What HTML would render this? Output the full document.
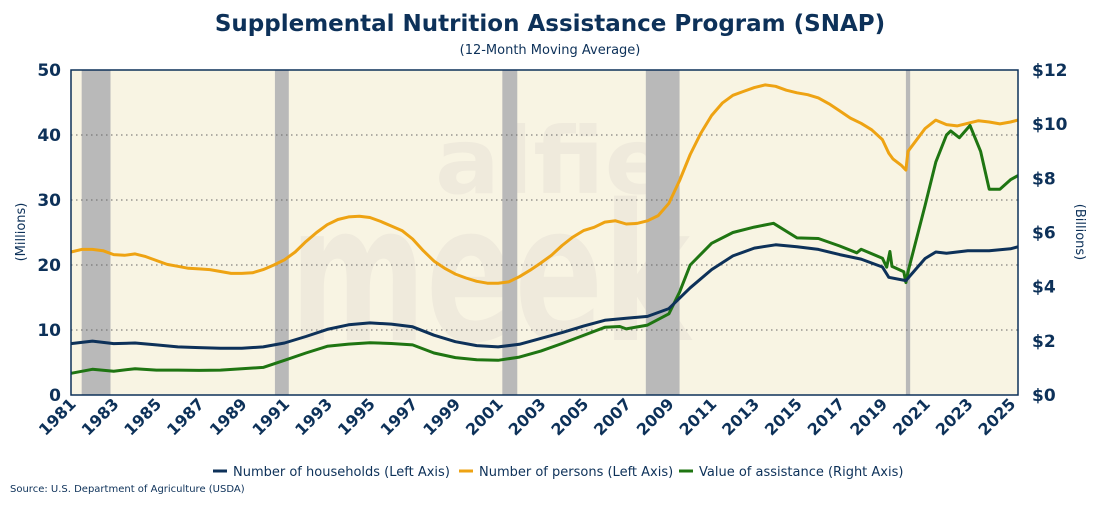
<!DOCTYPE html>
<html><head><meta charset="utf-8"><style>
body{margin:0;background:#fff;width:1100px;height:500px;overflow:hidden;font-family:"Liberation Sans",sans-serif}
svg text{font-family:"DejaVu Sans","Liberation Sans",sans-serif}
</style></head><body>
<svg id="c" width="1100" height="500">
<text x="550" y="31" text-anchor="middle" font-size="23" font-weight="bold" fill="#0d3159">Supplemental Nutrition Assistance Program (SNAP)</text>
<text x="550" y="54" text-anchor="middle" font-size="13" fill="#0d3159">(12-Month Moving Average)</text>
<text x="10" y="492" font-size="10" fill="#0d3159">Source: U.S. Department of Agriculture (USDA)</text>
</svg>
<script>
const years=[1981,1981.5,1982,1982.5,1983,1983.5,1984,1984.5,1985,1985.5,1986,1986.5,1987,1987.5,1988,1988.5,1989,1989.5,1990,1990.5,1991,1991.5,1992,1992.5,1993,1993.5,1994,1994.5,1995,1995.5,1996,1996.5,1997,1997.5,1998,1998.5,1999,1999.5,2000,2000.5,2001,2001.5,2002,2002.5,2003,2003.5,2004,2004.5,2005,2005.5,2006,2006.5,2007,2007.5,2008,2008.5,2009,2009.5,2010,2010.5,2011,2011.5,2012,2012.5,2013,2013.5,2014,2014.5,2015,2015.5,2016,2016.5,2017,2017.5,2018,2018.5,2019,2019.3,2019.5,2019.9,2020.1,2020.2,2020.5,2021,2021.5,2022,2022.5,2023,2023.5,2024,2024.5,2025,2025.35];
const persons=[22,22.4,22.4,22.2,21.6,21.5,21.7,21.3,20.7,20.1,19.8,19.5,19.4,19.3,19.0,18.7,18.7,18.8,19.3,20.0,20.8,22.0,23.6,25.0,26.2,27.0,27.4,27.5,27.3,26.7,26.0,25.3,24.0,22.2,20.6,19.5,18.6,18.0,17.5,17.2,17.2,17.4,18.2,19.2,20.3,21.5,23.0,24.3,25.3,25.8,26.6,26.8,26.3,26.4,26.8,27.6,29.5,33.0,37.0,40.3,43.0,44.9,46.1,46.7,47.3,47.7,47.5,46.9,46.5,46.2,45.7,44.8,43.7,42.6,41.8,40.8,39.3,37.2,36.3,35.3,34.6,37.5,38.8,41.0,42.3,41.6,41.4,41.8,42.2,42.0,41.7,42.0,42.3];
const hhYears=[1981,1982,1983,1984,1985,1986,1987,1988,1989,1990,1991,1992,1993,1994,1995,1996,1997,1998,1999,2000,2001,2002,2003,2004,2005,2006,2007,2008,2009,2010,2011,2012,2013,2014,2015,2016,2017,2018,2019,2019.3,2020.1,2021,2021.5,2022,2023,2024,2025,2025.35];
const households=[7.9,8.3,7.9,8.0,7.7,7.4,7.3,7.2,7.2,7.4,8.0,9.0,10.1,10.8,11.1,10.9,10.5,9.2,8.2,7.6,7.4,7.8,8.7,9.6,10.6,11.5,11.8,12.1,13.3,16.5,19.3,21.4,22.6,23.1,22.8,22.4,21.6,20.9,19.7,18.1,17.6,21.0,22.0,21.8,22.2,22.2,22.5,22.8];
const valYears=[1981,1982,1983,1984,1985,1986,1987,1988,1989,1990,1991,1992,1993,1994,1995,1996,1997,1998,1999,2000,2001,2002,2003,2004,2005,2006,2006.7,2007,2008,2009,2009.5,2010,2011,2012,2013,2013.9,2015,2016,2017,2017.8,2018,2019,2019.2,2019.35,2019.45,2020,2020.1,2020.2,2021,2021.5,2022,2022.2,2022.6,2023.1,2023.6,2024,2024.5,2025,2025.35];
const values=[0.8,0.95,0.88,0.97,0.92,0.92,0.91,0.92,0.97,1.02,1.28,1.55,1.8,1.88,1.93,1.9,1.85,1.55,1.38,1.3,1.28,1.4,1.62,1.9,2.2,2.5,2.53,2.44,2.58,3.0,3.8,4.8,5.6,6.0,6.2,6.34,5.8,5.78,5.5,5.25,5.38,5.05,4.72,5.3,4.75,4.55,4.15,4.55,7.0,8.6,9.6,9.75,9.5,9.95,9.0,7.6,7.6,7.95,8.1];
const recessions=[[1981.5,1982.85],[1990.55,1991.2],[2001.2,2001.9],[2007.92,2009.5],[2020.1,2020.3]];
const leftTicks=[0,10,20,30,40,50];
const rightTicks=[0,2,4,6,8,10,12];
const xTicks=[1981,1983,1985,1987,1989,1991,1993,1995,1997,1999,2001,2003,2005,2007,2009,2011,2013,2015,2017,2019,2021,2023,2025];

const L=71,R=1018,T=70,B=395,X0=1981,X1=2025.35;
const x=v=>L+(v-X0)/(X1-X0)*(R-L);
const yL=v=>B-v/50*(B-T);
const yR=v=>B-v/12*(B-T);
const NS='http://www.w3.org/2000/svg';
const svg=document.getElementById('c');
function mk(tag,attrs,parent){const e=document.createElementNS(NS,tag);for(const k in attrs)e.setAttribute(k,attrs[k]);(parent||svg).appendChild(e);return e;}

let bg=mk('rect',{x:L,y:T,width:R-L,height:B-T,fill:'#f8f4e3'});


let w1=mk('text',{x:435,y:193,'font-size':92,'font-weight':'bold',fill:'#efeadc',textLength:235,lengthAdjust:'spacingAndGlyphs'});w1.textContent='alfie';


let w2=mk('text',{x:290,y:340,'font-size':190,'font-weight':'bold',fill:'#efeadc',textLength:400,lengthAdjust:'spacingAndGlyphs'});w2.textContent='meek';


recessions.forEach(r=>{let e=mk('rect',{x:x(r[0]),y:T,width:Math.max(4,x(r[1])-x(r[0])),height:B-T,fill:'#b9b9b9'});

});
leftTicks.forEach(t=>{
 if(t>0&&t<50){let g=mk('line',{x1:L,x2:R,y1:yL(t),y2:yL(t),stroke:'#666','stroke-width':1,'stroke-dasharray':'1.5,3.5'});
 
 }
 let e=mk('text',{x:L-10,y:yL(t)+6,'text-anchor':'end','font-size':17,'font-weight':'bold',fill:'#0d3159'});e.textContent=t;
 
 
});
rightTicks.forEach(t=>{let e=mk('text',{x:R+14,y:yR(t)+6,'font-size':17,'font-weight':'bold',fill:'#0d3159'});e.textContent='$'+t;
 
 });
xTicks.forEach(t=>{let tx=x(t)+6,ty=B+10;let e=mk('text',{x:tx,y:ty,'text-anchor':'end','font-size':16,'font-weight':'bold',fill:'#0d3159',transform:`rotate(-45 ${tx} ${ty})`});e.textContent=t;
 
 });
function line(xs,ys,fy,col,name){let d=xs.map((v,i)=>(i?'L':'M')+x(v).toFixed(1)+','+fy(ys[i]).toFixed(1)).join('');
 let p=mk('path',{d:d,fill:'none',stroke:col,'stroke-width':3,'stroke-linejoin':'round'});
 
 }
line(years,persons,yL,'#eea313','persons-line');
line(valYears,values,yR,'#1f7512','value-line');
line(hhYears,households,yL,'#0d3159','households-line');
let fr=mk('rect',{x:L,y:T,width:R-L,height:B-T,fill:'none',stroke:'#0d3159','stroke-width':1.5});


let yl=mk('text',{x:25,y:232,'text-anchor':'middle','font-size':13,fill:'#0d3159',transform:'rotate(-90 25 232)'});yl.textContent='(Millions)';


let yr=mk('text',{x:1076,y:232,'text-anchor':'middle','font-size':13,fill:'#0d3159',transform:'rotate(90 1076 232)'});yr.textContent='(Billions)';


const leg=[[213,'#0d3159','Number of households (Left Axis)'],[459,'#eea313','Number of persons (Left Axis)'],[679,'#1f7512','Value of assistance (Right Axis)']];
leg.forEach(l=>{let g=mk('g',{});
 
 
 mk('line',{x1:l[0],x2:l[0]+14,y1:471,y2:471,stroke:l[1],'stroke-width':3},g);
 let t=mk('text',{x:l[0]+20,y:476,'font-size':13,fill:'#0d3159'},g);t.textContent=l[2];});
</script>
</body></html>
